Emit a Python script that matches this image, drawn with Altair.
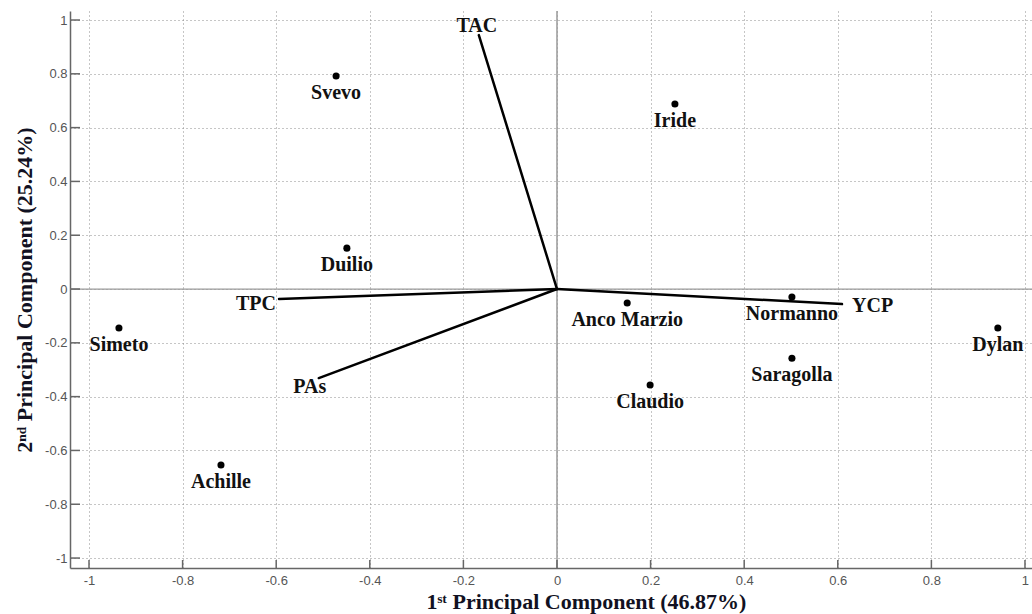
import altair as alt
import pandas as pd

# Cultivar scores on the first two principal components
cultivars = ["Svevo", "Iride", "Duilio", "Simeto", "Achille",
             "Anco Marzio", "Claudio", "Normanno", "Saragolla", "Dylan"]
pc1_scores = [-0.472, 0.252, -0.449, -0.936, -0.718, 0.150, 0.199, 0.502, 0.502, 0.942]
pc2_scores = [0.792, 0.688, 0.152, -0.145, -0.654, -0.052, -0.357, -0.030, -0.257, -0.145]

# Variable loadings (drawn as lines from the origin)
variables = ["TAC", "TPC", "PAs", "YCP"]
pc1_loadings = [-0.167, -0.594, -0.509, 0.609]
pc2_loadings = [0.944, -0.037, -0.331, -0.056]

tick_values = [-1, -0.8, -0.6, -0.4, -0.2, 0, 0.2, 0.4, 0.6, 0.8, 1]

X_DOMAIN = [-1.0406, 1.015]
Y_DOMAIN = [-1.037, 1.0335]
W, H = 962, 557

xs = alt.Scale(domain=X_DOMAIN, nice=False, zero=False)
ys = alt.Scale(domain=Y_DOMAIN, nice=False, zero=False)

scores = pd.DataFrame({"name": cultivars, "pc1": pc1_scores, "pc2": pc2_scores})
loads = pd.DataFrame({"name": variables, "pc1": pc1_loadings, "pc2": pc2_loadings,
                      "o1": 0.0, "o2": 0.0})
ticks = pd.DataFrame({"t": tick_values})

label_expr = "toString(round(datum.value * 10) / 10)"
common_axis = dict(
    values=tick_values, labelExpr=label_expr, grid=True, gridDash=[1, 3],
    gridColor="#8c8c8c", gridWidth=1, ticks=False, domainColor="#666666",
    domainWidth=1.5, labelFont="Liberation Sans", labelFontSize=13,
    labelColor="#555555", titleFont="Liberation Serif", titleFontSize=22,
    titleFontWeight="bold", titleColor="#111122", titleAlign="center",
    titleBaseline="alphabetic",
)
axis_x = alt.Axis(title="1ˢᵗ Principal Component (46.87%)", labelPadding=6,
                  titleX=516, titleY=40, **common_axis)
axis_y = alt.Axis(title="2ⁿᵈ Principal Component (25.24%)", labelPadding=3,
                  titleX=-39, titleY=278.5, titleAngle=270, **common_axis)


def X(field):
    return alt.X(field, type="quantitative", scale=xs, axis=axis_x)


def Y(field):
    return alt.Y(field, type="quantitative", scale=ys, axis=axis_y)


zero = pd.DataFrame({"v": [0.0]})

# zero lines
vline = alt.Chart(zero).mark_rule(color="#9a9a9a", strokeWidth=1.5).encode(x=X("v"))
hline = alt.Chart(zero).mark_rule(color="#9a9a9a", strokeWidth=1.2).encode(y=Y("v"))

# inward tick marks along both axes
xticks = alt.Chart(ticks).mark_rule(color="#666666", strokeWidth=1.5).encode(
    x=X("t"),
    y=alt.datum(Y_DOMAIN[0]),
    y2=alt.datum(Y_DOMAIN[0] + 8 / 269),
)
yticks = alt.Chart(ticks).mark_rule(color="#666666", strokeWidth=1.5).encode(
    y=Y("t"),
    x=alt.datum(X_DOMAIN[0]),
    x2=alt.datum(X_DOMAIN[0] + 10 / 468),
)

# loading vectors
vectors = alt.Chart(loads).mark_rule(color="black", strokeWidth=2.5, strokeCap="round").encode(
    x=X("o1"), y=Y("o2"), x2="pc1:Q", y2="pc2:Q",
)

points = alt.Chart(scores).mark_point(filled=True, size=50, color="black", opacity=1).encode(
    x=X("pc1"), y=Y("pc2"),
)

text_style = dict(font="Liberation Serif", fontSize=20, fontWeight="bold",
                  color="#111111", baseline="middle")

point_labels = alt.Chart(scores).mark_text(align="center", dy=17, **text_style).encode(
    x=X("pc1"), y=Y("pc2"), text="name:N",
)

# placement of each variable name relative to its vector tip
tip_placement = {
    "TAC": ("center", -2, -9),
    "TPC": ("right", -3, 5),
    "PAs": ("center", -9, 9),
    "YCP": ("left", 10, 2),
}
vector_labels = []
for var, (align, dx, dy) in tip_placement.items():
    vector_labels.append(
        alt.Chart(loads).transform_filter(alt.datum.name == var)
        .mark_text(align=align, dx=dx, dy=dy, **text_style)
        .encode(x=X("pc1"), y=Y("pc2"), text="name:N")
    )

chart = alt.layer(
    vline, hline, xticks, yticks, vectors, points, point_labels, *vector_labels
).properties(
    width=W, height=H,
    autosize=alt.AutoSizeParams(type="none"),
    padding={"left": 70, "top": 11, "right": 0, "bottom": 46},
    background="white",
).configure_view(strokeWidth=0)

chart.save("out.html", embed_options={"renderer": "svg", "actions": False})
